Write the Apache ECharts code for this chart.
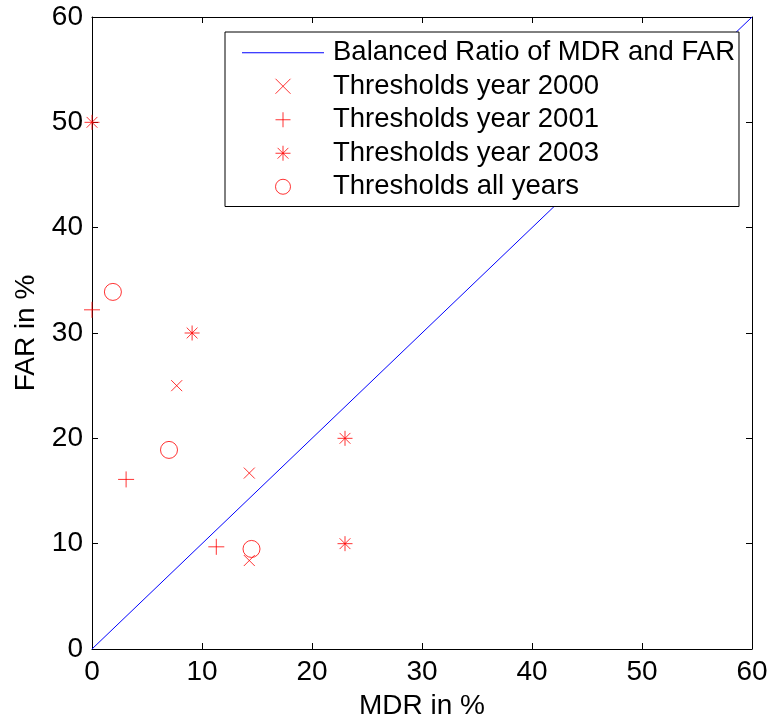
<!DOCTYPE html>
<html>
<head>
<meta charset="utf-8">
<script src="https://cdn.jsdelivr.net/npm/echarts@6/dist/echarts.min.js"></script>
<style>
html,body{margin:0;padding:0;background:#fff;}
#chart{width:769px;height:719px;}
</style>
</head>
<body>
<div id="chart"></div>
<script>
// ---- data ----
var seriesNames = ['Balanced Ratio of MDR and FAR', 'Thresholds year 2000', 'Thresholds year 2001', 'Thresholds year 2003', 'Thresholds all years'];
var balancedMDR = [0, 60];
var balancedFAR = [0, 60];
var mdr2000 = [7.7, 14.3, 14.3];
var far2000 = [25.0, 16.7, 8.4];
var mdr2001 = [0, 3.1, 11.3];
var far2001 = [32.2, 16.1, 9.7];
var mdr2003 = [0, 9.1, 23.0, 23.0];
var far2003 = [50, 30, 20, 10];
var mdrAll = [1.9, 7.0, 14.5];
var farAll = [33.9, 18.9, 9.5];
var tickValues = [0, 10, 20, 30, 40, 50, 60];

function pairs(xs, ys) { return xs.map(function (x, i) { return [x, ys[i]]; }); }

var FONT = "'Liberation Sans', Arial, Helvetica, sans-serif";
var RED = '#ff0000';
var BLUE = '#0000ff';
var xPath = 'path://M-1,-1L1,1M-1,1L1,-1';
var plusPath = 'path://M-1,0L1,0M0,-1L0,1';
var starPath = 'path://M-1,0L1,0M0,-1L0,1M-0.72,-0.72L0.72,0.72M-0.72,0.72L0.72,-0.72';
var lineIcon = 'path://M0,0L82,0L82,1L0,1Z';

var markerStyle = { color: 'transparent', borderColor: RED, borderWidth: 1 };

function axisCommon(showLabel) {
  return {
    type: 'value', min: tickValues[0], max: tickValues[tickValues.length - 1], interval: 10,
    axisLine: { show: true, onZero: false, lineStyle: { color: '#000', width: 1 } },
    axisTick: { show: true, inside: true, length: 6, lineStyle: { color: '#000', width: 1 } },
    axisLabel: { show: showLabel, color: '#000', fontFamily: FONT, fontSize: 28, margin: 9 },
    splitLine: { show: false }
  };
}

var xMain = axisCommon(true);
xMain.position = 'bottom';
xMain.name = 'MDR in %';
xMain.nameLocation = 'middle';
xMain.nameGap = 43;
xMain.nameTextStyle = { color: '#000', fontFamily: FONT, fontSize: 28 };
var xTop = axisCommon(false);
xTop.position = 'top';
var yMain = axisCommon(true);
yMain.position = 'left';
yMain.name = 'FAR in %';
yMain.nameLocation = 'middle';
yMain.nameGap = 52;
yMain.nameTextStyle = { color: '#000', fontFamily: FONT, fontSize: 28 };
var yRight = axisCommon(false);
yRight.position = 'right';

var legendData = seriesNames.map(function (n, i) {
  return i === 0 ? { name: n, icon: lineIcon, itemStyle: { borderWidth: 0 } } : { name: n };
});

var chart = echarts.init(document.getElementById('chart'), null, { renderer: 'canvas' });
chart.setOption({
  animation: false,
  backgroundColor: '#fff',
  grid: { left: 92, top: 17, right: 17, bottom: 70, containLabel: false, outerBoundsMode: 'none' },
  xAxis: [xMain, xTop],
  yAxis: [yMain, yRight],
  legend: {
    data: legendData,
    orient: 'vertical',
    left: 225, top: 32,
    padding: [4, 4, 3, 17],
    itemGap: 0,
    itemWidth: 82, itemHeight: 15,
    backgroundColor: '#fff',
    borderColor: '#000', borderWidth: 1, borderRadius: 0,
    symbolKeepAspect: true,
    itemStyle: { borderWidth: 1 },
    lineStyle: { width: 1 },
    textStyle: { color: '#000', fontFamily: FONT, fontSize: 27.5, lineHeight: 33.5, padding: [0, 0, 0, 4] },
    selectedMode: false
  },
  series: [
    { name: seriesNames[0], type: 'line', data: pairs(balancedMDR, balancedFAR), symbol: 'none',
      lineStyle: { color: BLUE, width: 1 }, itemStyle: { color: BLUE }, z: 1 },
    { name: seriesNames[1], type: 'scatter', data: pairs(mdr2000, far2000), symbol: xPath, symbolSize: 11, itemStyle: markerStyle },
    { name: seriesNames[2], type: 'scatter', data: pairs(mdr2001, far2001), symbol: plusPath, symbolSize: 16, itemStyle: markerStyle },
    { name: seriesNames[3], type: 'scatter', data: pairs(mdr2003, far2003), symbol: starPath, symbolSize: 15, itemStyle: markerStyle },
    { name: seriesNames[4], type: 'scatter', data: pairs(mdrAll, farAll), symbol: 'circle', symbolSize: 17, itemStyle: markerStyle }
  ]
});
</script>
</body>
</html>
